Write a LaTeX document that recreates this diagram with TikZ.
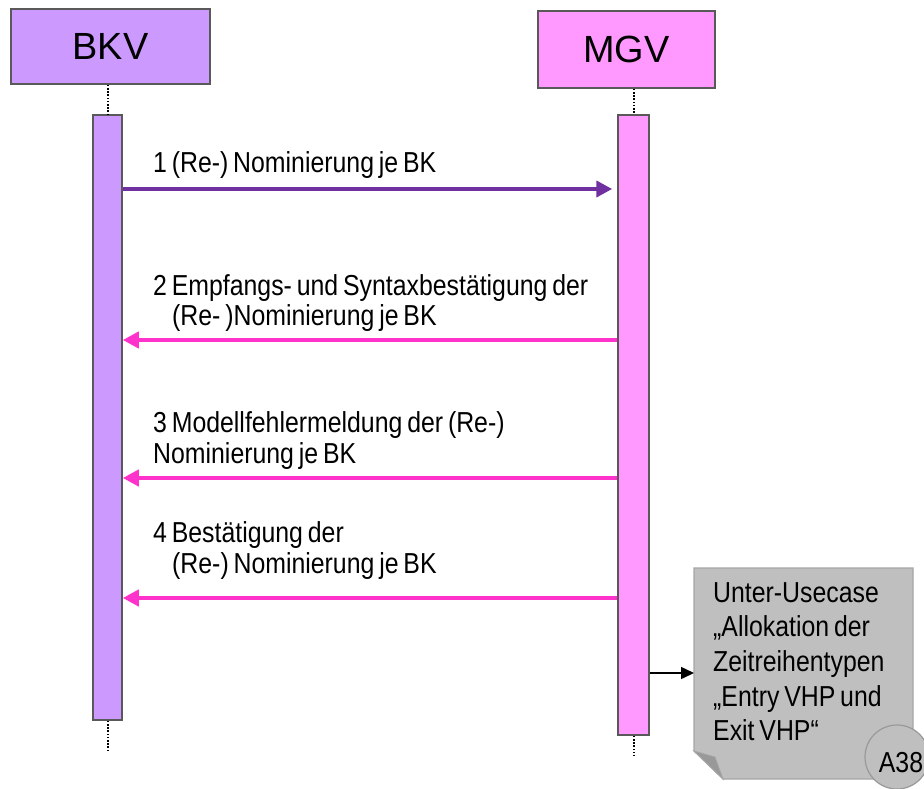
\documentclass[tikz,border=0pt]{standalone}
\usepackage{fontspec}
\setmainfont{Liberation Sans}
\newfontfamily\narrowfont[FakeStretch=0.86, WordSpace=0.7]{Liberation Sans}
\usetikzlibrary{arrows.meta}
\definecolor{bkvfill}{HTML}{CC99FF}
\definecolor{mgvfill}{HTML}{FF99FF}
\definecolor{boxline}{HTML}{595959}
\definecolor{reqarrow}{HTML}{7030A0}
\definecolor{resparrow}{HTML}{FF33CC}
\definecolor{notefill}{HTML}{BFBFBF}
\definecolor{noteline}{HTML}{A6A6A6}
\definecolor{notefold}{HTML}{999999}
\tikzset{
  actor/.style={draw=boxline, line width=1.5bp, minimum height=75bp, inner sep=0pt,
    font=\fontsize{38}{40}\selectfont},
  activation/.style={draw=boxline, line width=1.5bp, inner sep=0pt},
  lifeline/.style={draw=black, line width=2bp, dash pattern=on 1.6bp off 1.6bp},
  msg/.style={line width=4bp, -{Triangle[length=16bp,width=16bp]}},
  lbl/.style={anchor=base west, inner sep=0pt, font=\narrowfont\fontsize{29}{31}\selectfont},
}
\begin{document}
\begin{tikzpicture}[x=1bp, y=-1bp]
\useasboundingbox (0,0) rectangle (924,789);

% participants
\node[actor, fill=bkvfill, minimum width=199bp] (bkv) at (110.5,46.5) {BKV};
\node[actor, fill=mgvfill, minimum width=177bp, minimum height=77bp] (mgv) at (626.5,49.5) {MGV};

% activation bars
\node[activation, fill=bkvfill, minimum width=29bp, minimum height=605bp] (bkvbar) at (107.5,417.5) {};
\node[activation, fill=mgvfill, minimum width=31bp, minimum height=620bp] (mgvbar) at (633.5,425) {};

% lifelines
\coordinate (bkvend) at (107.5,752);
\coordinate (mgvend) at (633.5,756);
\draw[lifeline] (bkvbar.north |- bkv.south) -- (bkvbar.north);
\draw[lifeline] (bkvbar.south) -- (bkvend);
\draw[lifeline] (mgvbar.north |- mgv.south) -- (mgvbar.north);
\draw[lifeline] (mgvbar.south) -- (mgvend);

% message anchors on the bars
\coordinate (m1s) at (bkvbar.east |- 0,189);
\coordinate (m1e) at (mgvbar.west |- 0,189);
\coordinate (m2s) at (mgvbar.west |- 0,340);
\coordinate (m2e) at (bkvbar.east |- 0,340);
\coordinate (m3s) at (mgvbar.west |- 0,478);
\coordinate (m3e) at (bkvbar.east |- 0,478);
\coordinate (m4s) at (mgvbar.west |- 0,598);
\coordinate (m4e) at (bkvbar.east |- 0,598);

% messages
\draw[msg, reqarrow] (m1s) -- ([xshift=-5bp]m1e);
\draw[msg, resparrow] (m2s) -- (m2e);
\draw[msg, resparrow] (m3s) -- (m3e);
\draw[msg, resparrow] (m4s) -- (m4e);

% message labels
\node[lbl] (l1) at (153,172) {1 (Re-) Nominierung je BK};
\node[lbl] (l2a) at (153,295) {2 Empfangs- und Syntaxbestätigung der};
\node[lbl] (l2b) at (172,325) {(Re- )Nominierung je BK};
\node[lbl] (l3a) at (153,432) {3 Modellfehlermeldung der (Re-)};
\node[lbl] (l3b) at (153,463) {Nominierung je BK};
\node[lbl] (l4a) at (153,542) {4 Bestätigung der};
\node[lbl] (l4b) at (172,573) {(Re-) Nominierung je BK};

% sub use case note with folded corner
\path[fill=notefill, draw=noteline, line width=1.2bp]
  (694,568) -- (913,568) -- (913,779) -- (723,779) -- (694,751) -- cycle;
\path[fill=notefold, draw=noteline, line width=0.8bp]
  (694,751) -- (715,757) -- (723,779) -- cycle;
\node[lbl] (n1) at (713,602) {Unter-Usecase};
\node[lbl] (n2) at (713,636) {„Allokation der};
\node[lbl] (n3) at (713,671) {Zeitreihentypen};
\node[lbl] (n4) at (713,706) {„Entry VHP und};
\node[lbl] (n5) at (713,740) {Exit VHP“};
\node[circle, fill=notefill, draw=notefold, line width=1.2bp, minimum size=64bp, inner sep=0pt]
  (a38) at (897,757) {};
\node[lbl, anchor=center] (a38text) at (901,763) {A38};

% call into the sub use case
\coordinate (noteentry) at (694,673);
\draw[line width=1.5bp, -{Triangle[length=13bp,width=12bp]}] (mgvbar.east |- noteentry) -- (noteentry);
\end{tikzpicture}
\end{document}
